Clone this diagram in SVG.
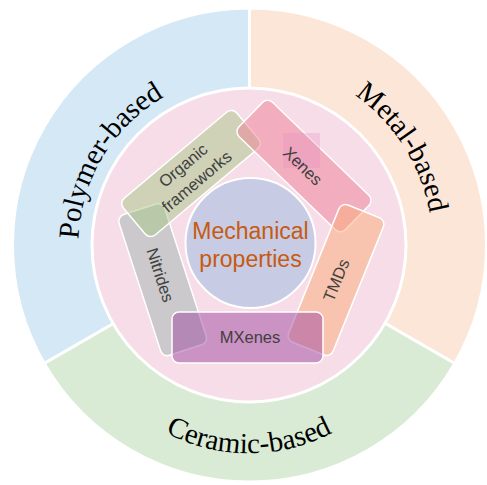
<svg xmlns="http://www.w3.org/2000/svg" width="487" height="485" viewBox="0 0 487 485">
<style>
.sector{stroke:#ffffff;stroke-width:3;}
.lab{font-family:"Liberation Serif","Times New Roman",serif;font-size:29px;fill:#000000;}
.box{stroke:#ffffff;stroke-width:1.5;}
.t{font-family:"Liberation Sans",Arial,sans-serif;font-size:16.5px;fill:#404040;text-anchor:middle;}
.c{font-family:"Liberation Sans",Arial,sans-serif;font-size:23px;fill:#c55a11;text-anchor:middle;}
</style>
<defs>
<path id="arcP" d="M 137.3 374.1 A 171 171 0 0 1 310.8 85.4"/>
<path id="arcM" d="M 179.5 75.9 A 183 183 0 0 1 373.1 379.9"/>
<path id="arcC" d="M 71.7 304.3 A 180 180 0 0 0 426.3 304.3"/>
</defs>
<rect width="487" height="485" fill="#ffffff"/>
<g id="polymer">
<path class="sector" fill="#d4e8f6" d="M 249.5 245 L 249.5 8 A 237 237 0 0 0 44.25 363.5 Z"/>
<text class="lab" text-anchor="middle"><textPath href="#arcP" startOffset="50%">Polymer-based</textPath></text>
</g>
<g id="metal">
<path class="sector" fill="#fce6d8" d="M 249.5 245 L 249.5 8 A 237 237 0 0 1 454.75 363.5 Z"/>
<text class="lab" text-anchor="middle"><textPath href="#arcM" startOffset="50%">Metal-based</textPath></text>
</g>
<g id="ceramic">
<path class="sector" fill="#d9ebd5" d="M 249.5 245 L 44.25 363.5 A 237 237 0 0 0 454.75 363.5 Z"/>
<text class="lab" text-anchor="middle"><textPath href="#arcC" startOffset="50%">Ceramic-based</textPath></text>
</g>
<g id="ring">
<circle cx="249" cy="245" r="157" fill="#f6dde7" stroke="#ffffff" stroke-width="3"/>
</g>
<g id="nitrides">
<rect class="box" transform="translate(162.7,279.7) rotate(72)" x="-74" y="-24" width="148" height="48" rx="7" fill="#a8b8b5" fill-opacity="0.55"/>
<text class="t" transform="translate(160.5,275) rotate(72)" y="6">Nitrides</text>
</g>
<g id="organic">
<rect class="box" transform="translate(191,173.5) rotate(-40)" x="-74" y="-24" width="148" height="48" rx="7" fill="#a8c888" fill-opacity="0.5"/>
<text class="t" transform="translate(190,173.5) rotate(-40)"><tspan x="0" y="-5">Organic</tspan><tspan x="0" y="16">frameworks</tspan></text>
</g>
<g id="xenes">
<rect class="box" transform="translate(304,166) rotate(44)" x="-74" y="-24" width="148" height="48" rx="7" fill="#ee7f98" fill-opacity="0.5"/>
<rect x="283" y="133" width="37" height="35" fill="#e58fc0" fill-opacity="0.3"/>
<text class="t" transform="translate(303,166) rotate(44)" y="6">Xenes</text>
</g>
<g id="tmds">
<rect class="box" transform="translate(336,280) rotate(-68)" x="-74" y="-24" width="148" height="48" rx="7" fill="#faab78" fill-opacity="0.5"/>
<text class="t" transform="translate(336,280) rotate(-68)" y="6">TMDs</text>
</g>
<g id="mxenes">
<rect class="box" x="172" y="312" width="151" height="51" rx="7" fill="#a04aa2" fill-opacity="0.5"/>
<text class="t" x="250" y="343" fill="#555555">MXenes</text>
</g>
<g id="center">
<circle cx="250.5" cy="243" r="65" fill="#c8cbe4" stroke="#ffffff" stroke-width="2"/>
<text class="c" x="250.5" y="239">Mechanical</text>
<text class="c" x="250.5" y="267">properties</text>
</g>
</svg>
